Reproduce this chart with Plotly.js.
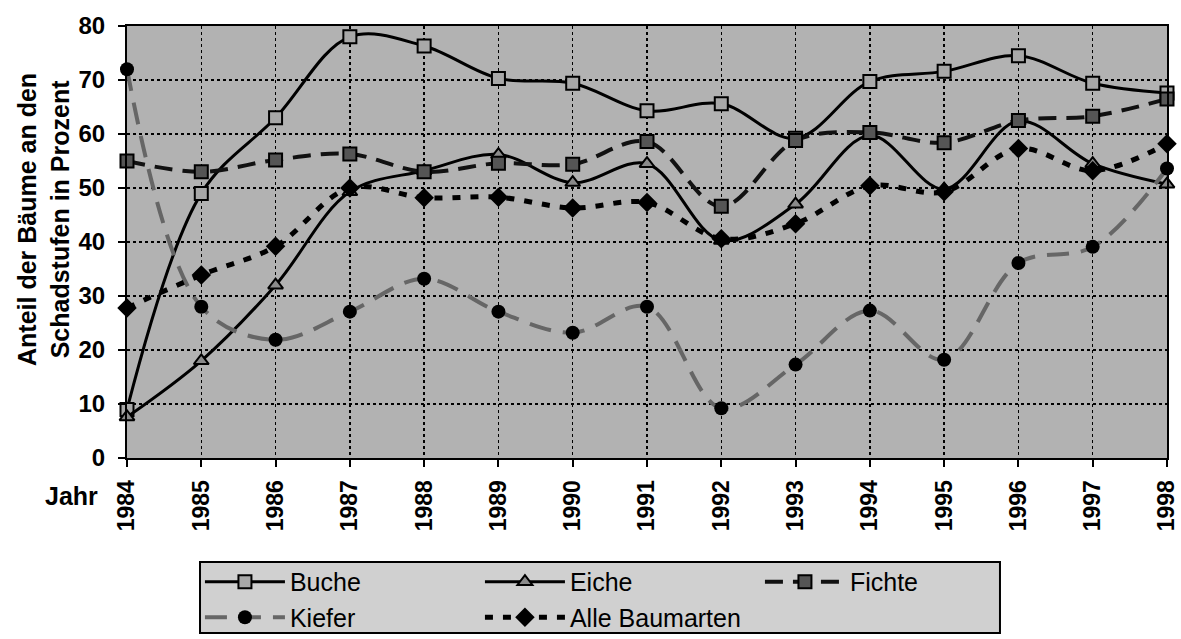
<!DOCTYPE html>
<html>
<head>
<meta charset="utf-8">
<script src="https://cdn.plot.ly/plotly-3.0.1.min.js"></script>
<style>html,body{margin:0;padding:0;background:#fff;}#chart{width:1181px;height:639px;}</style>
</head>
<body>
<div id="chart"></div>
<script>
var years = [1984,1985,1986,1987,1988,1989,1990,1991,1992,1993,1994,1995,1996,1997,1998];
var yearLabels = years.map(String);
var buche  = [9, 49, 63, 78, 76.3, 70.3, 69.4, 64.3, 65.6, 59.2, 69.7, 71.6, 74.5, 69.4, 67.6];
var eiche  = [7.6, 18, 32, 49.3, 53.2, 56.2, 51, 54.5, 40.3, 47, 59.7, 49.8, 62.4, 54.5, 50.7];
var fichte = [55, 53, 55.2, 56.3, 53, 54.6, 54.4, 58.6, 46.6, 58.8, 60.3, 58.4, 62.5, 63.3, 66.5];
var kiefer = [72, 28, 21.9, 27.1, 33.2, 27.1, 23.2, 28, 9.2, 17.3, 27.3, 18.2, 36.1, 39.1, 53.6];
var alle   = [27.8, 33.9, 39.2, 50, 48.2, 48.3, 46.3, 47.3, 40.6, 43.4, 50.4, 49.3, 57.3, 53.2, 58.2];
var seriesNames = ['Buche','Eiche','Fichte','Kiefer','Alle Baumarten'];

var FONT = 'Liberation Sans, Arial, sans-serif';

function tr(name, y, line, marker){
  return {x: years, y: y, name: name, type: 'scatter', mode: 'lines+markers',
    line: Object.assign({shape: 'spline', smoothing: 1}, line),
    marker: marker, cliponaxis: false};
}

var data = [
  tr(seriesNames[0], buche, {color:'#000', width:3}, {symbol:'square', size:13, color:'#a8a8a8', line:{color:'#000', width:2}}),
  tr(seriesNames[1], eiche, {color:'#000', width:3}, {symbol:'triangle-up', size:13, color:'#8a8a8a', line:{color:'#000', width:2}}),
  tr(seriesNames[2], fichte, {color:'#111', width:4, dash:'18px,10px'}, {symbol:'square', size:13, color:'#555', line:{color:'#000', width:2}}),
  tr(seriesNames[3], kiefer, {color:'#666', width:4, dash:'22px,12px'}, {symbol:'circle', size:14, color:'#000', line:{color:'#000', width:0}}),
  tr(seriesNames[4], alle, {color:'#000', width:5, dash:'8px,10px'}, {symbol:'diamond', size:15, color:'#000', line:{color:'#000', width:0}})
];

var layout = {
  width: 1181, height: 639,
  margin: {l:127, r:14, t:26, b:181, autoexpand: false},
  paper_bgcolor: '#ffffff',
  plot_bgcolor: '#b2b2b2',
  font: {family: FONT, color: '#000', size: 24},
  showlegend: true,
  xaxis: {
    range: [1984, 1998], tickvals: years, ticktext: yearLabels, tickangle: -90,
    ticks: 'outside', ticklen: 7, tickwidth: 2, tickcolor: '#000',
    showline: true, linewidth: 2, linecolor: '#000', mirror: true,
    showgrid: true, gridcolor: '#000', gridwidth: 1.5, griddash: 'dot',
    zeroline: false, tickfont: {family: FONT, size: 23, color: '#000', weight: 'bold'},
    ticklabelstandoff: 4, ticklabeloverflow: 'allow', automargin: false, fixedrange: true
  },
  yaxis: {
    range: [0, 80], dtick: 10, tick0: 0,
    ticks: 'outside', ticklen: 7, tickwidth: 2, tickcolor: '#000',
    showline: true, linewidth: 2, linecolor: '#000', mirror: true,
    showgrid: true, gridcolor: '#000', gridwidth: 1.5, griddash: 'dot',
    zeroline: false, tickfont: {family: FONT, size: 24, color: '#000', weight: 'bold'},
    ticklabelstandoff: 8, automargin: false, fixedrange: true
  },
  legend: {
    orientation: 'h', xref: 'container', yref: 'container',
    x: 0.1693, xanchor: 'left', y: 0.1252, yanchor: 'top',
    bgcolor: 'rgba(0,0,0,0)', borderwidth: 0,
    font: {family: FONT, size: 25, color: '#000'},
    entrywidth: 185, entrywidthmode: 'pixels', itemwidth: 80,
    traceorder: 'normal'
  },
  shapes: [
    {type: 'rect', xref: 'paper', yref: 'paper', x0: 0.0702, x1: 0.8394, y0: -0.2407, y1: -0.4051,
     fillcolor: '#d0d0d0', line: {color: '#000', width: 2}, layer: 'below'}
  ],
  annotations: [
    {text: 'Anteil der Bäume an den<br>Schadstufen in Prozent', textangle: -90,
     xref: 'paper', yref: 'paper', x: -0.0798, y: 0.551, xanchor: 'center', yanchor: 'middle',
     showarrow: false, font: {family: FONT, size: 25, color: '#000', weight: 'bold'}},
    {text: 'Jahr', xref: 'paper', yref: 'paper', x: -0.0529, y: -0.087, xanchor: 'center', yanchor: 'middle',
     showarrow: false, font: {family: FONT, size: 25, color: '#000', weight: 'bold'}}
  ]
};

Plotly.newPlot('chart', data, layout, {displayModeBar: false, staticPlot: true});
</script>
</body>
</html>
